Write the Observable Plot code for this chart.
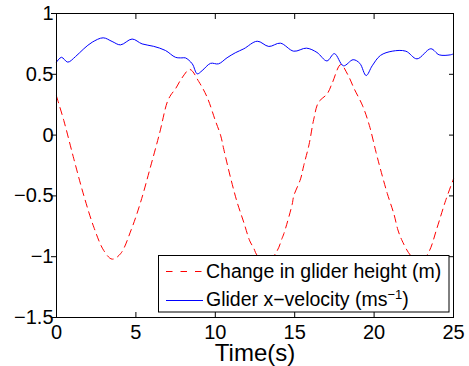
<!DOCTYPE html>
<html><head><meta charset="utf-8">
<script src="https://cdn.jsdelivr.net/npm/d3@7"></script>
<script src="https://cdn.jsdelivr.net/npm/@observablehq/plot@0.6"></script>
<style>
body{margin:0;background:#fff;}
#wrap{position:relative;width:469px;height:366px;font-family:"Liberation Sans",Arial,sans-serif;}
#legend{position:absolute;left:0;top:0;pointer-events:none;}
</style>
</head><body>
<div id="wrap"></div>
<script>
// Data
const heightTime = [0,0.46,1.09,1.72,2.35,2.98,3.5,4.03,4.7,5.3,5.9,6.5,6.97,7.2,7.49,7.9,8.4,8.96,9.49,10.0,10.33,10.54,10.96,11.37,11.8,12.17,12.42,12.64,13.25,13.9,14.2,14.32,14.84,14.94,15.37,15.57,15.9,16.2,16.5,17.05,17.37,17.9,18.33,18.75,19.28,19.7,20.12,20.4,20.83,21.25,21.5,21.77,22.3,22.9,23.45,23.97,24.5,25];
const heightValues = [0.32,0.12,-0.195,-0.497,-0.757,-0.95,-1.02,-0.976,-0.78,-0.55,-0.27,0.02,0.27,0.33,0.38,0.47,0.54,0.44,0.31,0.12,0.0,-0.12,-0.35,-0.55,-0.72,-0.87,-0.93,-0.99,-1.05,-0.95,-0.85,-0.81,-0.57,-0.5,-0.36,-0.25,-0.08,0.13,0.27,0.34,0.43,0.58,0.5,0.38,0.24,0.08,-0.14,-0.28,-0.48,-0.65,-0.78,-0.87,-0.99,-1.05,-0.96,-0.76,-0.54,-0.36];
const velTime = [0,0.31,0.71,1.2,1.72,2.25,2.94,3.5,4.03,4.76,5.39,6.12,6.86,7.49,7.9,8.12,8.55,8.86,9.17,9.7,10.2,10.74,11.26,11.8,12.64,13.37,14.1,14.94,15.74,16.4,17.03,17.5,18.07,18.68,19.1,19.5,19.88,20.4,21.14,22.0,22.7,23.57,24.1,24.8,25];
const velValues = [0.6,0.64,0.6,0.646,0.71,0.764,0.8,0.77,0.742,0.79,0.75,0.73,0.696,0.64,0.635,0.635,0.586,0.504,0.53,0.59,0.586,0.636,0.677,0.71,0.772,0.729,0.756,0.69,0.715,0.68,0.61,0.67,0.57,0.62,0.59,0.49,0.57,0.655,0.69,0.69,0.627,0.71,0.66,0.66,0.668];
const xTicks = [0,5,10,15,20,25];
const yTicks = [-1.5,-1,-0.5,0,0.5,1];
const seriesNames = ["Change in glider height (m)", "Glider x\u2212velocity (ms"];
const xLabel = "Time(s)";

const heightData = heightTime.map((t,i) => ({t, v: heightValues[i]}));
const velData = velTime.map((t,i) => ({t, v: velValues[i]}));
const fmt = d => d < 0 ? "\u2212" + Math.abs(d) : String(d);

const chart = Plot.plot({
  width: 469, height: 366,
  marginLeft: 56, marginRight: 16, marginTop: 13, marginBottom: 49,
  style: {fontFamily: "Liberation Sans, Arial, sans-serif", fontSize: "20px", color: "#000", background: "#fff", overflow: "visible"},
  x: {domain: [0, 25]},
  y: {domain: [-1.5, 1]},
  marks: [
    Plot.line(heightData, {x: "t", y: "v", stroke: "#ff0000", strokeWidth: 1, strokeDasharray: "7,5", curve: "catmull-rom"}),
    Plot.line(velData, {x: "t", y: "v", stroke: "#0000ff", strokeWidth: 1, curve: "catmull-rom"}),
    Plot.frame({stroke: "#000", strokeWidth: 1}),
    Plot.axisX(xTicks, {anchor: "bottom", tickSize: -5, tickPadding: 12, label: null, tickFormat: fmt, fontSize: 20}),
    Plot.axisX(xTicks, {anchor: "top", tickSize: -5, tickFormat: () => "", label: null}),
    Plot.axisY(yTicks, {anchor: "left", tickSize: 5, tickPadding: -2, label: null, tickFormat: fmt, fontSize: 20}),
    Plot.axisY(yTicks, {anchor: "right", tickSize: -5, tickFormat: () => "", label: null}),
    Plot.text([xLabel], {frameAnchor: "bottom", dy: 36, fontSize: 24, lineAnchor: "middle"})
  ]
});
const wrap = document.getElementById("wrap");
wrap.appendChild(chart);

// Legend overlay (inside the axes, bottom right)
const ns = "http://www.w3.org/2000/svg";
const lg = document.createElementNS(ns, "svg");
lg.setAttribute("id", "legend");
lg.setAttribute("width", 469); lg.setAttribute("height", 366);
lg.innerHTML = `
<rect x="158.5" y="255.5" width="290.5" height="56.5" fill="#fff" stroke="#000" stroke-width="1"/>
<line x1="166" x2="203" y1="271.5" y2="271.5" stroke="#ff0000" stroke-width="1" stroke-dasharray="6.5,8"/>
<line x1="166" x2="203" y1="300.5" y2="300.5" stroke="#0000ff" stroke-width="1"/>
<text x="206" y="277.7" font-size="19.5" font-family="Liberation Sans, Arial, sans-serif">${seriesNames[0]}</text>
<text x="206" y="306" font-size="19.5" font-family="Liberation Sans, Arial, sans-serif">${seriesNames[1]}<tspan font-size="13" dy="-7">\u22121</tspan><tspan dy="7">)</tspan></text>
`;
wrap.appendChild(lg);
</script>
</body></html>
